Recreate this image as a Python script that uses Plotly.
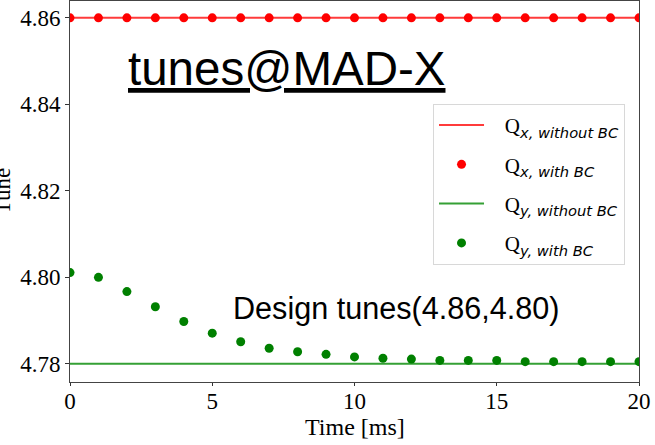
import plotly.graph_objects as go

# Time axis [ms]
time_ms = [0, 1, 2, 3, 4, 5, 6, 7, 8, 9, 10, 11, 12, 13, 14, 15, 16, 17, 18, 19, 20]

# Tunes with beam coupling (BC)
qx_with_bc = [4.86] * 21
qy_with_bc = [4.8011, 4.8000, 4.7967, 4.7932, 4.7898, 4.7871, 4.7851, 4.7836,
              4.7828, 4.7822, 4.7816, 4.7813, 4.7811, 4.7808, 4.7808, 4.7808,
              4.7805, 4.7805, 4.7805, 4.7805, 4.7805]

# Tunes without BC (constant reference)
qx_without_bc = 4.86
qy_without_bc = 4.78

y_ticks = [4.78, 4.80, 4.82, 4.84, 4.86]
x_ticks = [0, 5, 10, 15, 20]

# Legend labels: serif "Q" with an italic sans subscript, padded from the symbol
PAD = "&nbsp;" * 3
SUB = '<sub><span style="font-family:DejaVu Sans;font-style:italic">{}</span></sub>'
labels = [
    PAD + "Q" + SUB.format("x, without BC"),
    PAD + "Q" + SUB.format("x, with BC"),
    PAD + "Q" + SUB.format("y, without BC"),
    PAD + "Q" + SUB.format("y, with BC"),
]

fig = go.Figure()
fig.add_trace(go.Scatter(x=[time_ms[0], time_ms[-1]], y=[qx_without_bc] * 2, mode="lines",
                         line=dict(color="#ff3b3b", width=2), name=labels[0], legendgroup="a"))
fig.add_trace(go.Scatter(x=time_ms, y=qx_with_bc, mode="markers",
                         marker=dict(color="#ff0000", size=9), name=labels[1], legendgroup="b"))
fig.add_trace(go.Scatter(x=[time_ms[0], time_ms[-1]], y=[qy_without_bc] * 2, mode="lines",
                         line=dict(color="#35a035", width=2), name=labels[2], legendgroup="c"))
fig.add_trace(go.Scatter(x=time_ms, y=qy_with_bc, mode="markers",
                         marker=dict(color="#008000", size=9), name=labels[3], legendgroup="d"))

axis_font = dict(family="Liberation Serif", size=23, color="black")

fig.update_layout(
    width=655, height=445,
    margin=dict(l=70, r=16, t=1, b=63),
    plot_bgcolor="white", paper_bgcolor="white",
    showlegend=True,
    legend=dict(x=0.638, y=0.73, xanchor="left", yanchor="top",
                bgcolor="white", bordercolor="#d8d8d8", borderwidth=1,
                font=dict(family="Liberation Serif", size=21, color="black"),
                tracegroupgap=9, traceorder="grouped", itemwidth=45),
    xaxis=dict(range=[0, 20], tickvals=x_ticks, ticks="outside", ticklen=3,
               tickcolor="#333", showline=True, linecolor="#444", linewidth=1,
               mirror=True, showgrid=False, zeroline=False, tickfont=axis_font,
               ticklabelstandoff=-5),
    yaxis=dict(range=[4.7758, 4.8639], tickvals=y_ticks, tickformat=".2f",
               ticks="outside", ticklen=4, tickcolor="#333", showline=True,
               linecolor="#444", linewidth=1, mirror=True, showgrid=False,
               zeroline=False, tickfont=axis_font),
    annotations=[
        dict(text="Time [ms]", xref="paper", yref="paper", x=0.5, y=-0.119,
             xanchor="center", yanchor="middle", showarrow=False,
             font=dict(family="Liberation Serif", size=24, color="black")),
        dict(text="Tune", xref="paper", yref="paper", x=-0.118, y=0.5,
             textangle=-90, xanchor="center", yanchor="middle", showarrow=False,
             font=axis_font),
        dict(text="<u>tunes@MAD-X</u>", x=7.61, y=4.8482, xref="x", yref="y",
             xanchor="center", yanchor="middle", showarrow=False,
             font=dict(family="Liberation Sans", size=47.5, color="black")),
        dict(text="Design tunes(4.86,4.80)", x=11.49, y=4.7928, xref="x", yref="y",
             xanchor="center", yanchor="middle", showarrow=False,
             font=dict(family="Liberation Sans", size=30.6, color="black")),
    ],
)

fig.write_html("out.html")
